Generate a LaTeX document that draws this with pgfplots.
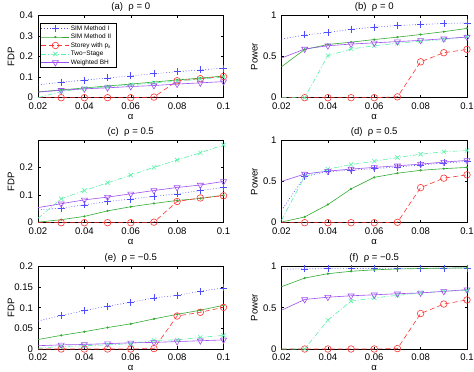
\documentclass[border=0pt]{standalone}
\usepackage{fontspec}
\setmainfont{Liberation Sans}
\usepackage{pgfplots}
\usepackage{pgfplotstable}
\pgfplotsset{compat=1.18}

\definecolor{cSimI}{RGB}{77,77,255}
\definecolor{cSimII}{RGB}{51,170,51}
\definecolor{cStorey}{RGB}{255,51,51}
\definecolor{cTwo}{RGB}{90,240,170}
\definecolor{cWbh}{RGB}{160,80,240}

% columns: alpha, SIM I, SIM II, Storey, Two-Stage, Weighted BH
\pgfplotstableread{
a    s1    s2    st    ts    wbh
0.02 0.062 0.028 0     0.000 0.027
0.03 0.075 0.038 0     0.030 0.036
0.04 0.085 0.047 0     0.045 0.043
0.05 0.096 0.057 0     0.053 0.048
0.06 0.106 0.066 0     0.062 0.054
0.07 0.116 0.076 0.003 0.072 0.059
0.08 0.126 0.086 0.082 0.080 0.066
0.09 0.135 0.095 0.092 0.090 0.072
0.10 0.143 0.105 0.103 0.100 0.078
}\tabA
\pgfplotstableread{
a    s1    s2    st    ts    wbh
0.02 0.710 0.375 0     0     0.480
0.03 0.760 0.585 0     0     0.590
0.04 0.790 0.645 0     0.510 0.630
0.05 0.830 0.673 0     0.590 0.650
0.06 0.855 0.705 0     0.630 0.665
0.07 0.875 0.734 0.010 0.660 0.680
0.08 0.887 0.766 0.435 0.685 0.695
0.09 0.900 0.800 0.545 0.705 0.715
0.10 0.907 0.840 0.585 0.740 0.735
}\tabB
\pgfplotstableread{
a    s1    s2    st    ts    wbh
0.02 0.047 0.002 0     0.016 0.055
0.03 0.053 0.011 0     0.087 0.069
0.04 0.065 0.023 0     0.117 0.083
0.05 0.077 0.043 0     0.145 0.093
0.06 0.086 0.058 0     0.173 0.105
0.07 0.096 0.070 0.002 0.201 0.117
0.08 0.105 0.081 0.077 0.228 0.128
0.09 0.117 0.088 0.090 0.254 0.137
0.10 0.128 0.100 0.098 0.283 0.150
}\tabC
\pgfplotstableread{
a    s1    s2    st    ts    wbh
0.02 0.150 0.008 0     0.030 0.500
0.03 0.560 0.070 0     0.560 0.590
0.04 0.620 0.220 0     0.650 0.625
0.05 0.635 0.410 0     0.705 0.650
0.06 0.655 0.550 0     0.745 0.670
0.07 0.675 0.600 0.005 0.790 0.690
0.08 0.700 0.635 0.425 0.830 0.710
0.09 0.725 0.655 0.540 0.860 0.735
0.10 0.740 0.670 0.580 0.875 0.755
}\tabD
\pgfplotstableread{
a    s1    s2    st    ts    wbh
0.02 0.068 0.023 0     0.002 0.008
0.03 0.081 0.033 0     0.006 0.010
0.04 0.093 0.042 0     0.008 0.011
0.05 0.104 0.052 0     0.010 0.013
0.06 0.113 0.061 0     0.013 0.015
0.07 0.124 0.073 0.001 0.021 0.016
0.08 0.130 0.084 0.080 0.022 0.018
0.09 0.140 0.094 0.089 0.028 0.020
0.10 0.148 0.106 0.101 0.033 0.022
}\tabE
\pgfplotstableread{
a    s1    s2    st    ts    wbh
0.02 0.968 0.755 0     0     0.470
0.03 0.972 0.860 0     0     0.600
0.04 0.974 0.913 0     0.350 0.628
0.05 0.975 0.942 0     0.580 0.645
0.06 0.976 0.960 0     0.620 0.657
0.07 0.977 0.970 0.005 0.650 0.670
0.08 0.978 0.975 0.430 0.680 0.680
0.09 0.979 0.980 0.545 0.700 0.698
0.10 0.980 0.983 0.595 0.710 0.720
}\tabF

\newcommand{\lent}[1]{\makebox[44bp][l]{#1}}

\pgfplotsset{
  panel/.style={
    scale only axis, width=185.5bp, height=82.5bp,
    anchor=south west,
    xmin=0.02, xmax=0.1, ymin=0,
    xtick={0.02,0.04,0.06,0.08,0.1},
    xticklabels={0.02,0.04,0.06,0.08,0.1},
    scaled ticks=false,
    clip=false,
    axis line style={line width=0.5bp},
    major tick length=2.5bp,
    tick style={black, line width=0.5bp},
    tick label style={font=\fontsize{9.6}{11}\selectfont},
    label style={font=\fontsize{9.6}{11}\selectfont},
    title style={font=\fontsize{9.6}{11}\selectfont, anchor=base},
    xticklabel style={anchor=base, yshift=-11.8bp},
    yticklabel style={xshift=-1.5bp},
    xlabel={α},
    xlabel style={at={([yshift=-19bp]axis description cs:0.5,0)}, anchor=center},
    ylabel style={at={([xshift=-27bp]axis description cs:0,0.5)}, anchor=center},
    /pgf/number format/assume math mode=true,
    legend image code/.code={%
      \draw[#1, mark repeat=2, mark phase=2]
        plot coordinates {(0bp,0bp) (14bp,0bp) (28bp,0bp)};},
  },
  simI/.style={cSimI, line width=0.6bp, dash pattern=on 0.8bp off 2bp,
    mark=+, mark size=3.5bp, mark options={solid}, mark phase=2},
  simII/.style={cSimII, line width=0.6bp, solid,
    mark=*, mark size=0.8bp, mark options={solid}, mark phase=2},
  storey/.style={cStorey, line width=0.6bp, dash pattern=on 5bp off 3bp,
    mark=o, mark size=3.3bp, mark options={solid}, mark phase=2},
  twost/.style={cTwo, line width=0.6bp, dash pattern=on 5bp off 2bp on 1bp off 2bp,
    mark=x, mark size=3bp, mark options={solid}, mark phase=2},
  wbh/.style={cWbh, line width=0.6bp, solid,
    mark=triangle, mark size=3.5bp, mark options={solid, rotate=180}, mark phase=2},
  powerax/.style={ymax=1, ytick={0,0.5,1}, yticklabels={0,0.5,1}, ylabel={Power}},
}

\newcommand{\panelplots}[1]{%
  \addplot[simI]   table[x=a, y=s1]  {#1};
  \addplot[simII]  table[x=a, y=s2]  {#1};
  \addplot[storey] table[x=a, y=st]  {#1};
  \addplot[twost]  table[x=a, y=ts]  {#1};
  \addplot[wbh]    table[x=a, y=wbh] {#1};
}

\begin{document}
\begin{tikzpicture}
\path[use as bounding box] (0,0) rectangle (474bp,372bp);

% row 1
\begin{axis}[panel, at={(38bp,274.3bp)},
  ymax=0.4, ytick={0,0.1,0.2,0.3,0.4}, yticklabels={0,0.1,0.2,0.3,0.4},
  ylabel={FDP}, title={(a)\ \ ρ = 0},
  legend entries={\lent{SIM Method I}, \lent{SIM Method II},
    \lent{Storey with p\textsubscript{λ}}, \lent{Two−Stage}, \lent{Weighted BH}},
  legend style={at={(0.0125,0.9)}, anchor=north west,
    font=\fontsize{6.5}{7}\selectfont, draw=black, line width=0.5bp, fill=white,
    inner sep=0.8bp, outer sep=0bp, row sep=0bp,
    nodes={inner sep=1.1bp, text height=4.9bp, text depth=1.4bp}},
  legend cell align=left,
]
\panelplots{\tabA}
\end{axis}

\begin{axis}[panel, powerax, at={(281.5bp,274.3bp)}, title={(b)\ \ ρ = 0}]
\panelplots{\tabB}
\end{axis}

% row 2
\begin{axis}[panel, at={(38bp,149.3bp)},
  ymax=0.3, ytick={0,0.1,0.2}, yticklabels={0,0.1,0.2},
  ylabel={FDP}, title={(c)\ \ ρ = 0.5}]
\panelplots{\tabC}
\end{axis}

\begin{axis}[panel, powerax, at={(281.5bp,149.3bp)}, title={(d)\ \ ρ = 0.5}]
\panelplots{\tabD}
\end{axis}

% row 3
\begin{axis}[panel, at={(38bp,23bp)},
  ymax=0.2, ytick={0,0.05,0.1,0.15,0.2}, yticklabels={0,0.05,0.1,0.15,0.2},
  ylabel={FDP}, title={(e)\ \ ρ = −0.5}]
\panelplots{\tabE}
\end{axis}

\begin{axis}[panel, powerax, at={(281.5bp,23bp)}, title={(f)\ \ ρ = −0.5}]
\panelplots{\tabF}
\end{axis}
\end{tikzpicture}
\end{document}
